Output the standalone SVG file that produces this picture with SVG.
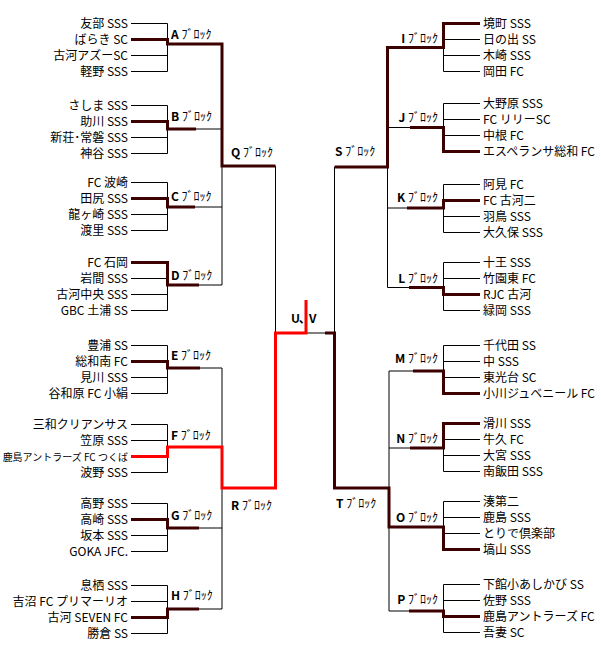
<svg xmlns="http://www.w3.org/2000/svg" width="601" height="655" viewBox="0 0 601 655">
<style>
text { font-family: "Noto Sans CJK JP", "Noto Sans", sans-serif; font-size: 12px; fill: #000; }
.l { text-anchor: end; }
.r { text-anchor: start; }
.e { text-anchor: end; }
.k { font-weight: bold; }
.thin { stroke: #000; stroke-width: 1; fill: none; }
.thick { stroke: #3c0000; stroke-width: 3; fill: none; }
.red { stroke: #ff0000; stroke-width: 3; fill: none; }
</style>
<rect width="601" height="655" fill="#fff"/>
<g id="connectors">
  <g class="thin">
    <path d="M131 23.5H167.5M131 55.5H167.5M131 71.5H167.5M167.5 23.5V71.5"/>
    <path d="M131 105.5H167.5M131 137.5H167.5M131 153.5H167.5M167.5 105.5V153.5M196 129H222"/>
    <path d="M131 182.5H167.5M131 214.5H167.5M131 230.5H167.5M167.5 182.5V230.5M195 207H222"/>
    <path d="M131 278.5H167.5M131 294.5H167.5M131 310.5H167.5M167.5 262.5V310.5M199 285H222"/>
    <path d="M222 44V285M275.5 166V333H334.5M334.5 167V333"/>
    <path d="M131 345.5H167.5M131 377.5H167.5M131 393.5H167.5M167.5 345.5V393.5M200 368H222"/>
    <path d="M131 424.5H167.5M131 440.5H167.5M131 472.5H167.5M167.5 424.5V472.5"/>
    <path d="M131 503.5H167.5M131 535.5H167.5M131 551.5H167.5M167.5 503.5V551.5M199 528H222"/>
    <path d="M131 585.5H167.5M131 601.5H167.5M131 633.5H167.5M167.5 585.5V633.5M199 609H222"/>
    <path d="M222 368V609"/>
    <path d="M443.5 39.5H480M443.5 55.5H480M443.5 71.5H480M443.5 23.5V71.5"/>
    <path d="M443.5 103.5H480M443.5 119.5H480M443.5 135.5H480M443.5 103.5V151.5M387.5 127.5H410"/>
    <path d="M443.5 184.5H480M443.5 216.5H480M443.5 232.5H480M443.5 184.5V232.5M387.5 208H407"/>
    <path d="M443.5 262.5H480M443.5 278.5H480M443.5 310.5H480M443.5 262.5V310.5M387.5 287.5H409"/>
    <path d="M387.5 47.5V287.5"/>
    <path d="M443.5 345.5H480M443.5 361.5H480M443.5 377.5H480M443.5 345.5V393.5M389 371H413"/>
    <path d="M443.5 439.5H480M443.5 455.5H480M443.5 471.5H480M443.5 423.5V471.5M389 448H410"/>
    <path d="M443.5 501.5H480M443.5 517.5H480M443.5 533.5H480M443.5 501.5V549.5"/>
    <path d="M443.5 584.5H480M443.5 600.5H480M443.5 632.5H480M443.5 584.5V632.5M389 611H409"/>
    <path d="M389 371V611"/>
  </g>
  <g class="thick">
    <polyline points="131,39.5 167.5,39.5 167.5,44 222,44 222,166 275.5,166"/>
    <polyline points="131,121.5 167.5,121.5 167.5,129 196,129"/>
    <polyline points="131,198.5 167.5,198.5 167.5,207 195,207"/>
    <polyline points="131,262.5 167.5,262.5 167.5,285 199,285"/>
    <polyline points="131,361.5 167.5,361.5 167.5,368 200,368"/>
    <polyline points="131,519.5 167.5,519.5 167.5,528 199,528"/>
    <polyline points="131,617.5 167.5,617.5 167.5,609 199,609"/>
    <polyline points="480,23.5 443.5,23.5 443.5,47.5 387.5,47.5 387.5,167 334.5,167"/>
    <polyline points="480,151.5 443.5,151.5 443.5,127.5 410,127.5"/>
    <polyline points="480,200.5 443.5,200.5 443.5,208 407,208"/>
    <polyline points="480,294.5 443.5,294.5 443.5,287.5 409,287.5"/>
    <polyline points="480,393.5 443.5,393.5 443.5,371 413,371"/>
    <polyline points="480,423.5 443.5,423.5 443.5,448 410,448"/>
    <polyline points="325,333 334.5,333 334.5,488 389,488 389,527 443.5,527 443.5,549.5 480,549.5"/>
    <polyline points="480,616.5 443.5,616.5 443.5,611 409,611"/>
  </g>
  <polyline class="red" points="131,456.5 167.5,456.5 167.5,447 222,447 222,488 275.5,488 275.5,333 306,333 306,300"/>
</g>
<g id="block-A"><text x="171" y="39"><tspan class="k">A</tspan> ﾌﾞﾛｯｸ</text></g>
<g id="block-B"><text x="171" y="120.5"><tspan class="k">B</tspan> ﾌﾞﾛｯｸ</text></g>
<g id="block-C"><text x="171" y="200.5"><tspan class="k">C</tspan> ﾌﾞﾛｯｸ</text></g>
<g id="block-D"><text x="171" y="279.5"><tspan class="k">D</tspan> ﾌﾞﾛｯｸ</text></g>
<g id="block-E"><text x="171" y="360"><tspan class="k">E</tspan> ﾌﾞﾛｯｸ</text></g>
<g id="block-F"><text x="171" y="440"><tspan class="k">F</tspan> ﾌﾞﾛｯｸ</text></g>
<g id="block-G"><text x="171" y="520"><tspan class="k">G</tspan> ﾌﾞﾛｯｸ</text></g>
<g id="block-H"><text x="171" y="600"><tspan class="k">H</tspan> ﾌﾞﾛｯｸ</text></g>
<g id="block-Q"><text x="231" y="157"><tspan class="k">Q</tspan> ﾌﾞﾛｯｸ</text></g>
<g id="block-R"><text x="231" y="510"><tspan class="k">R</tspan> ﾌﾞﾛｯｸ</text></g>
<g id="block-S"><text x="335" y="156"><tspan class="k">S</tspan> ﾌﾞﾛｯｸ</text></g>
<g id="block-T"><text x="336" y="508"><tspan class="k">T</tspan> ﾌﾞﾛｯｸ</text></g>
<g id="block-I"><text class="e" x="438" y="43"><tspan class="k">I</tspan> ﾌﾞﾛｯｸ</text></g>
<g id="block-J"><text class="e" x="438" y="122"><tspan class="k">J</tspan> ﾌﾞﾛｯｸ</text></g>
<g id="block-K"><text class="e" x="438" y="202"><tspan class="k">K</tspan> ﾌﾞﾛｯｸ</text></g>
<g id="block-L"><text class="e" x="438" y="283"><tspan class="k">L</tspan> ﾌﾞﾛｯｸ</text></g>
<g id="block-M"><text class="e" x="438" y="363"><tspan class="k">M</tspan> ﾌﾞﾛｯｸ</text></g>
<g id="block-N"><text class="e" x="438" y="443"><tspan class="k">N</tspan> ﾌﾞﾛｯｸ</text></g>
<g id="block-O"><text class="e" x="438" y="522"><tspan class="k">O</tspan> ﾌﾞﾛｯｸ</text></g>
<g id="block-P"><text class="e" x="438" y="604"><tspan class="k">P</tspan> ﾌﾞﾛｯｸ</text></g>
<g id="final-UV"><text class="k" y="323"><tspan x="291">U</tspan><tspan x="299">､</tspan><tspan x="309">V</tspan></text></g>
<g id="team-a1"><text class="l" x="128" y="28">友部 SSS</text></g>
<g id="team-a2"><text class="l" x="128" y="44">ばらき SC</text></g>
<g id="team-a3"><text class="l" x="128" y="60">古河アズーSC</text></g>
<g id="team-a4"><text class="l" x="128" y="76">軽野 SSS</text></g>
<g id="team-b1"><text class="l" x="128" y="110">さしま SSS</text></g>
<g id="team-b2"><text class="l" x="128" y="126">助川 SSS</text></g>
<g id="team-b3"><text class="l" x="128" y="142">新荘･常磐 SSS</text></g>
<g id="team-b4"><text class="l" x="128" y="158">神谷 SSS</text></g>
<g id="team-c1"><text class="l" x="128" y="187">FC 波崎</text></g>
<g id="team-c2"><text class="l" x="128" y="203">田尻 SSS</text></g>
<g id="team-c3"><text class="l" x="128" y="219">龍ヶ崎 SSS</text></g>
<g id="team-c4"><text class="l" x="128" y="235">渡里 SSS</text></g>
<g id="team-d1"><text class="l" x="128" y="267">FC 石岡</text></g>
<g id="team-d2"><text class="l" x="128" y="283">岩間 SSS</text></g>
<g id="team-d3"><text class="l" x="128" y="299">古河中央 SSS</text></g>
<g id="team-d4"><text class="l" x="128" y="315">GBC 土浦 SS</text></g>
<g id="team-e1"><text class="l" x="128" y="350">豊浦 SS</text></g>
<g id="team-e2"><text class="l" x="128" y="366">総和南 FC</text></g>
<g id="team-e3"><text class="l" x="128" y="382">見川 SSS</text></g>
<g id="team-e4"><text class="l" x="128" y="398">谷和原 FC 小絹</text></g>
<g id="team-f1"><text class="l" x="128" y="429">三和クリアンサス</text></g>
<g id="team-f2"><text class="l" x="128" y="445">笠原 SSS</text></g>
<g id="team-f3"><text class="l" x="128" y="460.5" style="font-size:10px">鹿島アントラーズ FC つくば</text></g>
<g id="team-f4"><text class="l" x="128" y="477">波野 SSS</text></g>
<g id="team-g1"><text class="l" x="128" y="508">高野 SSS</text></g>
<g id="team-g2"><text class="l" x="128" y="524">高崎 SSS</text></g>
<g id="team-g3"><text class="l" x="128" y="540">坂本 SSS</text></g>
<g id="team-g4"><text class="l" x="128" y="556">GOKA JFC.</text></g>
<g id="team-h1"><text class="l" x="128" y="590">息栖 SSS</text></g>
<g id="team-h2"><text class="l" x="128" y="606">吉沼 FC プリマーリオ</text></g>
<g id="team-h3"><text class="l" x="128" y="622">古河 SEVEN FC</text></g>
<g id="team-h4"><text class="l" x="128" y="638">勝倉 SS</text></g>
<g id="team-i1"><text class="r" x="483" y="28">境町 SSS</text></g>
<g id="team-i2"><text class="r" x="483" y="44">日の出 SS</text></g>
<g id="team-i3"><text class="r" x="483" y="60">木崎 SSS</text></g>
<g id="team-i4"><text class="r" x="483" y="76">岡田 FC</text></g>
<g id="team-j1"><text class="r" x="483" y="108">大野原 SSS</text></g>
<g id="team-j2"><text class="r" x="483" y="124">FC リリーSC</text></g>
<g id="team-j3"><text class="r" x="483" y="140">中根 FC</text></g>
<g id="team-j4"><text class="r" x="483" y="156">エスペランサ総和 FC</text></g>
<g id="team-k1"><text class="r" x="483" y="189">阿見 FC</text></g>
<g id="team-k2"><text class="r" x="483" y="205">FC 古河二</text></g>
<g id="team-k3"><text class="r" x="483" y="221">羽鳥 SSS</text></g>
<g id="team-k4"><text class="r" x="483" y="237">大久保 SSS</text></g>
<g id="team-l1"><text class="r" x="483" y="267">十王 SSS</text></g>
<g id="team-l2"><text class="r" x="483" y="283">竹園東 FC</text></g>
<g id="team-l3"><text class="r" x="483" y="299">RJC 古河</text></g>
<g id="team-l4"><text class="r" x="483" y="315">緑岡 SSS</text></g>
<g id="team-m1"><text class="r" x="483" y="350">千代田 SS</text></g>
<g id="team-m2"><text class="r" x="483" y="366">中 SSS</text></g>
<g id="team-m3"><text class="r" x="483" y="382">東光台 SC</text></g>
<g id="team-m4"><text class="r" x="483" y="398">小川ジュベニール FC</text></g>
<g id="team-n1"><text class="r" x="483" y="428">滑川 SSS</text></g>
<g id="team-n2"><text class="r" x="483" y="444">牛久 FC</text></g>
<g id="team-n3"><text class="r" x="483" y="460">大宮 SSS</text></g>
<g id="team-n4"><text class="r" x="483" y="476">南飯田 SSS</text></g>
<g id="team-o1"><text class="r" x="483" y="506">湊第二</text></g>
<g id="team-o2"><text class="r" x="483" y="522">鹿島 SSS</text></g>
<g id="team-o3"><text class="r" x="483" y="538">とりで倶楽部</text></g>
<g id="team-o4"><text class="r" x="483" y="554">塙山 SSS</text></g>
<g id="team-p1"><text class="r" x="483" y="589">下館小あしかび SS</text></g>
<g id="team-p2"><text class="r" x="483" y="605">佐野 SSS</text></g>
<g id="team-p3"><text class="r" x="483" y="621">鹿島アントラーズ FC</text></g>
<g id="team-p4"><text class="r" x="483" y="637">吾妻 SC</text></g>
</svg>
